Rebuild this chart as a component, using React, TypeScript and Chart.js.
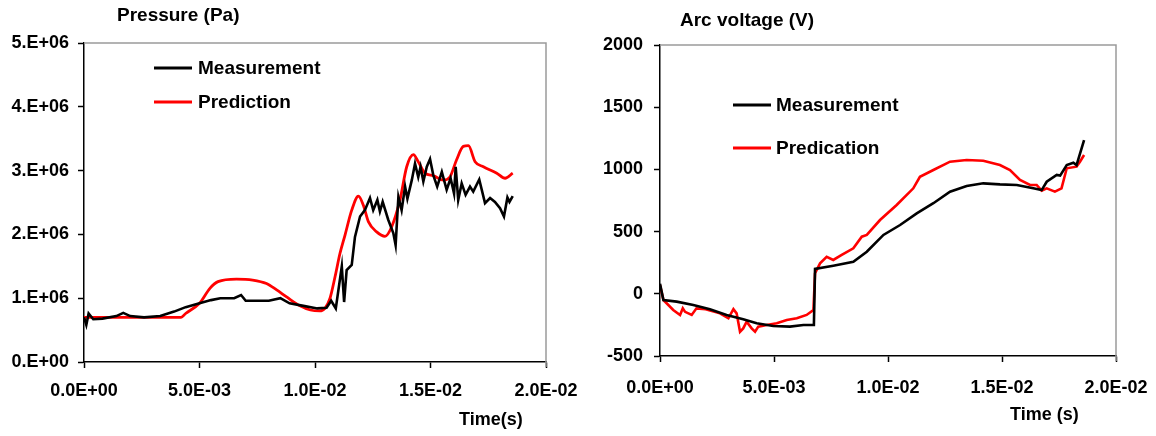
import React, { useEffect, useRef } from 'react';
import { Chart, registerables } from 'chart.js';

Chart.register(...registerables);

const FONT = '"Liberation Sans", Arial, Helvetica, sans-serif';

// ---- Axis ticks ----
const timeTickValues = [0, 0.005, 0.01, 0.015, 0.02];
const timeTickLabels = ['0.0E+00', '5.0E-03', '1.0E-02', '1.5E-02', '2.0E-02'];
const pressureTickValues = [0, 1e6, 2e6, 3e6, 4e6, 5e6];
const pressureTickLabels = ['0.E+00', '1.E+06', '2.E+06', '3.E+06', '4.E+06', '5.E+06'];
const voltageTickValues = [-500, 0, 500, 1000, 1500, 2000];
const voltageTickLabels = ['-500', '0', '500', '1000', '1500', '2000'];

// ---- Pressure: measurement ----
const pressureMeasTime = [
  0, 0.0001, 0.0002, 0.0004, 0.0008, 0.0014, 0.0017, 0.002, 0.0026, 0.0033,
  0.0039, 0.0044, 0.005, 0.0055, 0.0059, 0.0065, 0.0068, 0.007, 0.0075, 0.008,
  0.0085, 0.0089, 0.0095, 0.0101, 0.0105, 0.0107, 0.0109, 0.01116, 0.01126, 0.01137,
  0.01159, 0.01173, 0.01195, 0.01216, 0.01238, 0.01252, 0.0127, 0.01281, 0.01293, 0.01317,
  0.01339, 0.01349, 0.01361, 0.01375, 0.0139, 0.014, 0.01419, 0.01433, 0.01447, 0.01457,
  0.01469, 0.01484, 0.01498, 0.01512, 0.01529, 0.01549, 0.0157, 0.01587, 0.01602, 0.01609,
  0.0162, 0.01635, 0.01652, 0.01671, 0.01685, 0.01711, 0.01736, 0.01758, 0.01779, 0.01801,
  0.01818, 0.01833, 0.01842, 0.01856,
];
const pressureMeasValue = [
  0.70e6, 0.58e6, 0.76e6, 0.67e6, 0.68e6, 0.72e6, 0.77e6, 0.72e6, 0.70e6, 0.72e6,
  0.79e6, 0.86e6, 0.92e6, 0.97e6, 1.0e6, 1.0e6, 1.05e6, 0.96e6, 0.96e6, 0.96e6,
  1.0e6, 0.92e6, 0.88e6, 0.84e6, 0.85e6, 0.96e6, 0.84e6, 1.5e6, 0.94e6, 1.44e6,
  1.52e6, 1.96e6, 2.28e6, 2.38e6, 2.57e6, 2.38e6, 2.54e6, 2.36e6, 2.51e6, 2.23e6,
  2.02e6, 1.83e6, 2.59e6, 2.38e6, 2.75e6, 2.56e6, 2.85e6, 3.11e6, 2.9e6, 3.06e6,
  2.83e6, 3.06e6, 3.18e6, 2.93e6, 2.75e6, 2.98e6, 2.7e6, 2.88e6, 2.64e6, 3.06e6,
  2.54e6, 2.8e6, 2.62e6, 2.75e6, 2.67e6, 2.86e6, 2.49e6, 2.57e6, 2.51e6, 2.41e6,
  2.28e6, 2.58e6, 2.51e6, 2.6e6,
];

// ---- Pressure: prediction ----
const pressurePredTime = [
  0, 0.0042, 0.0044, 0.005, 0.00545, 0.0058, 0.0066, 0.0073, 0.0079, 0.00834,
  0.00877, 0.00935, 0.0098, 0.0102, 0.01043, 0.01065, 0.01087, 0.01108, 0.0113, 0.01159,
  0.01188, 0.01209, 0.01231, 0.01267, 0.01303, 0.01332, 0.01368, 0.01397, 0.01426, 0.01447,
  0.01476, 0.01512, 0.01556, 0.01584, 0.01613, 0.01642, 0.01664, 0.01693, 0.01729, 0.01787,
  0.01823, 0.01856,
];
const pressurePredValue = [
  0.70e6, 0.70e6, 0.76e6, 0.92e6, 1.155e6, 1.26e6, 1.3e6, 1.285e6, 1.23e6, 1.13e6,
  1.02e6, 0.88e6, 0.815e6, 0.8e6, 0.84e6, 1.0e6, 1.34e6, 1.7e6, 1.99e6, 2.38e6,
  2.6e6, 2.46e6, 2.2e6, 2.04e6, 1.97e6, 2.12e6, 2.54e6, 3.06e6, 3.25e6, 3.14e6,
  2.96e6, 2.92e6, 2.85e6, 2.9e6, 3.17e6, 3.38e6, 3.39e6, 3.14e6, 3.06e6, 2.96e6,
  2.88e6, 2.96e6,
];

// ---- Arc voltage: measurement ----
const voltageMeasTime = [
  0, 0.00015, 0.00073, 0.00146, 0.00219, 0.00292, 0.00365, 0.00424, 0.00497, 0.0057,
  0.00629, 0.00675, 0.0068, 0.0076, 0.00848, 0.00907, 0.0098, 0.01053, 0.01126, 0.01199,
  0.01272, 0.01345, 0.01418, 0.01491, 0.01565, 0.01637, 0.01674, 0.01696, 0.0174, 0.01755,
  0.01784, 0.01813, 0.01827, 0.0186,
];
const voltageMeasValue = [
  80, -50, -63, -90, -124, -170, -205, -237, -259, -264,
  -251, -251, 200, 226, 258, 338, 473, 553, 647, 728,
  821, 867, 888, 880, 875, 848, 834, 901, 955, 950,
  1035, 1054, 1035, 1236,
];

// ---- Arc voltage: predication ----
const voltagePredTime = [
  0, 0.00015, 0.00058, 0.00088, 0.001, 0.0011, 0.00139, 0.0016, 0.002, 0.00263,
  0.003, 0.00322, 0.00336, 0.00351, 0.00365, 0.0038, 0.00402, 0.00417, 0.00431, 0.00468,
  0.00512, 0.00556, 0.006, 0.00643, 0.00673, 0.0068, 0.00702, 0.00731, 0.0076, 0.00797,
  0.00848, 0.00885, 0.00907, 0.00965, 0.01038, 0.01111, 0.0114, 0.01199, 0.01272, 0.01345,
  0.01418, 0.01491, 0.01535, 0.01579, 0.01623, 0.01652, 0.01674, 0.01696, 0.01732, 0.01761,
  0.01784, 0.01827, 0.01842, 0.0186,
];
const voltagePredValue = [
  71, -50, -130, -170, -117, -145, -170, -117, -124, -157,
  -197, -124, -157, -305, -278, -224, -278, -305, -264, -251,
  -237, -211, -197, -170, -130, 165, 245, 298, 272, 312,
  366, 459, 473, 593, 714, 848, 941, 995, 1062, 1076,
  1070, 1035, 995, 915, 875, 875, 829, 848, 821, 848,
  1009, 1022, 1062, 1116,
];

const toPoints = (xs: number[], ys: number[]) => xs.map((x, i) => ({ x, y: ys[i] }));

type OverlayCfg = {
  title: string; titleX: number; titleY: number;
  axisTitle: string; axisTitleX: number; axisTitleY: number;
  legendX1: number; legendX2: number; legendTextX: number; legendY: number[];
};

function overlayPlugin(cfg: OverlayCfg) {
  return {
    id: 'overlay',
    beforeDatasetsDraw(chart: any) {
      const { ctx, chartArea } = chart;
      ctx.save();
      ctx.strokeStyle = '#9a9a9a';
      ctx.lineWidth = 1.5;
      ctx.beginPath();
      ctx.moveTo(chartArea.left, chartArea.top);
      ctx.lineTo(chartArea.right, chartArea.top);
      ctx.lineTo(chartArea.right, chartArea.bottom + 5);
      ctx.stroke();
      ctx.restore();
    },
    afterDraw(chart: any) {
      const { ctx } = chart;
      ctx.save();
      ctx.fillStyle = '#000';
      ctx.textBaseline = 'middle';
      ctx.textAlign = 'left';
      ctx.font = `bold 19px ${FONT}`;
      ctx.fillText(cfg.title, cfg.titleX, cfg.titleY);
      ctx.font = `bold 18px ${FONT}`;
      ctx.fillText(cfg.axisTitle, cfg.axisTitleX, cfg.axisTitleY);
      chart.data.datasets.forEach((ds: any, i: number) => {
        const y = cfg.legendY[i];
        ctx.strokeStyle = ds.borderColor;
        ctx.lineWidth = 3;
        ctx.beginPath();
        ctx.moveTo(cfg.legendX1, y);
        ctx.lineTo(cfg.legendX2, y);
        ctx.stroke();
        ctx.fillStyle = '#000';
        ctx.font = `bold 19px ${FONT}`;
        ctx.fillText(ds.label, cfg.legendTextX, y + 1);
      });
      ctx.restore();
    },
  };
}

function xScale(height: number, pad: number) {
  return {
    type: 'linear',
    min: 0,
    max: 0.02,
    afterBuildTicks: (s: any) => { s.ticks = timeTickValues.map((v) => ({ value: v })); },
    afterFit: (s: any) => { s.height = height; s.paddingLeft = 0; s.paddingRight = 0; },
    ticks: {
      autoSkip: false, maxRotation: 0, minRotation: 0, padding: pad, color: '#000',
      font: { family: FONT, size: 18, weight: 'bold' },
      callback: (_v: any, i: number) => timeTickLabels[i],
    },
    grid: { display: true, drawOnChartArea: false, drawTicks: true, tickLength: 6, tickColor: '#000', tickWidth: 1.5 },
    border: { display: true, color: '#000', width: 1.5 },
  };
}

function yScale(width: number, pad: number, values: number[], labels: string[]) {
  return {
    type: 'linear',
    min: values[0],
    max: values[values.length - 1],
    afterBuildTicks: (s: any) => { s.ticks = values.map((v) => ({ value: v })); },
    afterFit: (s: any) => { s.width = width; s.paddingTop = 0; s.paddingBottom = 0; },
    ticks: {
      autoSkip: false, padding: pad, color: '#000',
      font: { family: FONT, size: 18, weight: 'bold' },
      callback: (_v: any, i: number) => labels[i],
    },
    grid: { display: true, drawOnChartArea: false, drawTicks: true, tickLength: 6, tickColor: '#000', tickWidth: 1.5 },
    border: { display: true, color: '#000', width: 1.5 },
  };
}

function ChartCanvas({ left, width, height, makeConfig }: any) {
  const ref = useRef<HTMLCanvasElement>(null);
  useEffect(() => {
    const chart = new Chart(ref.current as HTMLCanvasElement, makeConfig());
    return () => chart.destroy();
  }, []);
  return (
    <canvas
      ref={ref}
      width={width}
      height={height}
      style={{ position: 'absolute', left, top: 0, width, height }}
    />
  );
}

const pressureConfig = () => ({
  type: 'line',
  data: {
    datasets: [
      {
        label: 'Measurement',
        data: toPoints(pressureMeasTime, pressureMeasValue),
        borderColor: '#000000', borderWidth: 2.6, pointRadius: 0, tension: 0,
      },
      {
        label: 'Prediction',
        data: toPoints(pressurePredTime, pressurePredValue),
        borderColor: '#ff0000', borderWidth: 2.8, pointRadius: 0, cubicInterpolationMode: 'monotone',
      },
    ],
  },
  options: {
    responsive: false,
    animation: false,
    devicePixelRatio: 1,
    parsing: false,
    layout: { padding: { top: 43, right: 34, bottom: 0, left: 0 } },
    plugins: { legend: { display: false }, title: { display: false }, tooltip: { enabled: false } },
    scales: {
      x: xScale(74, 12),
      y: yScale(84, 9, pressureTickValues, pressureTickLabels),
    },
  },
  plugins: [overlayPlugin({
    title: 'Pressure (Pa)', titleX: 117, titleY: 16,
    axisTitle: 'Time(s)', axisTitleX: 459, axisTitleY: 420,
    legendX1: 154, legendX2: 192, legendTextX: 198, legendY: [68, 102],
  })],
});

const voltageConfig = () => ({
  type: 'line',
  data: {
    datasets: [
      {
        label: 'Measurement',
        data: toPoints(voltageMeasTime, voltageMeasValue),
        borderColor: '#000000', borderWidth: 2.6, pointRadius: 0, tension: 0,
      },
      {
        label: 'Predication',
        data: toPoints(voltagePredTime, voltagePredValue),
        borderColor: '#ff0000', borderWidth: 2.6, pointRadius: 0, tension: 0,
      },
    ],
  },
  options: {
    responsive: false,
    animation: false,
    devicePixelRatio: 1,
    parsing: false,
    layout: { padding: { top: 45, right: 40, bottom: 0, left: 0 } },
    plugins: { legend: { display: false }, title: { display: false }, tooltip: { enabled: false } },
    scales: {
      x: xScale(80, 15),
      y: yScale(80, 11, voltageTickValues, voltageTickLabels),
    },
  },
  plugins: [overlayPlugin({
    title: 'Arc voltage (V)', titleX: 100, titleY: 21,
    axisTitle: 'Time (s)', axisTitleX: 430, axisTitleY: 415,
    legendX1: 153, legendX2: 191, legendTextX: 196, legendY: [105, 148],
  })],
});

export default function App() {
  return (
    <div style={{ position: 'absolute', left: 0, top: 0, width: 1156, height: 436, background: '#fff', overflow: 'hidden' }}>
      <ChartCanvas left={0} width={580} height={436} makeConfig={pressureConfig} />
      <ChartCanvas left={580} width={576} height={436} makeConfig={voltageConfig} />
    </div>
  );
}
